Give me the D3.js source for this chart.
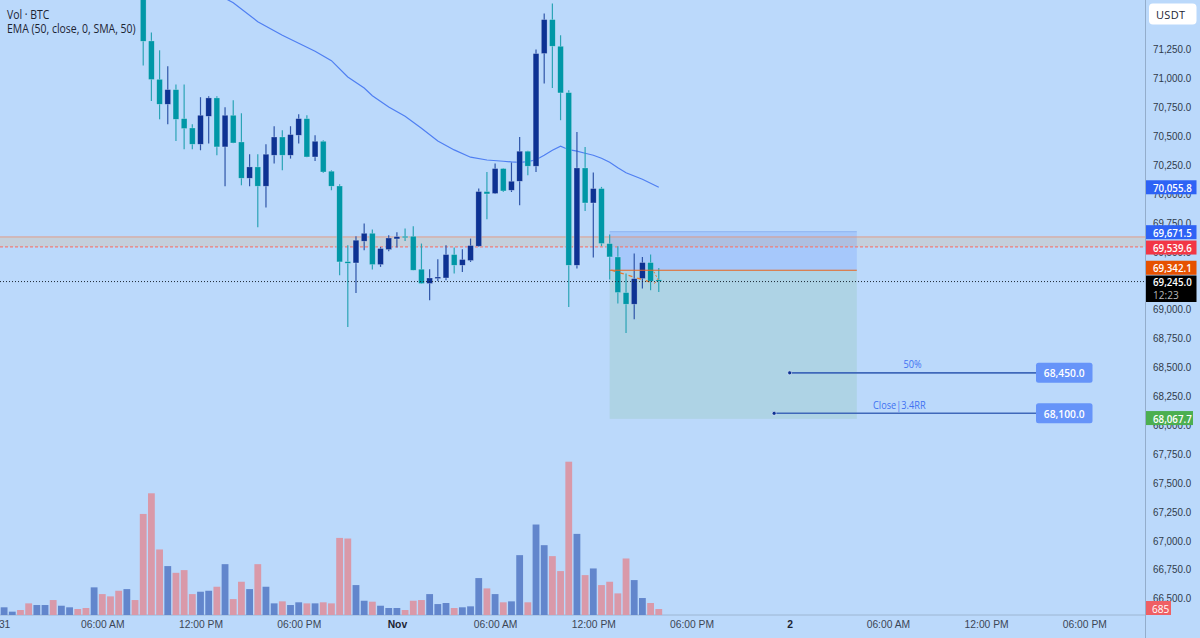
<!DOCTYPE html>
<html>
<head>
<meta charset="utf-8">
<script src="https://cdnjs.cloudflare.com/ajax/libs/d3/7.8.5/d3.min.js"></script>
<style>
html, body { margin: 0; padding: 0; background: #bbd9fb; overflow: hidden; }
svg { display: block; font-family: "Open Sans", "Noto Sans", sans-serif; }
.tick line, .domain { display: none; }
</style>
</head>
<body>
<svg id="chart" width="1200" height="638"></svg>
<script>
// 30 minute candles, index 0 = Oct 31 00:00
var firstCandle = 17;
var candleOpen = [71933,71322,70990,70774,70901,70650,70569,70428,70670,70829,70405,70679,70448,70134,70232,70065,
	70333,70491,70333,70506,70650,70318,70454,70195,70067,69413,69401,69589,69658,69387,69517,69609,
	69632,69632,69347,69223,69266,69271,69474,69381,69422,69546,70019,70002,70218,70030,70108,70368,
	70238,71213,71507,71276,70875,69381,70223,69920,70045,69569,69453,69145,69044,69266,69405,69255];
var candleHigh = [71990,71395,71241,71103,70945,70945,70601,70835,70843,70843,70748,70809,70696,70342,70342,70428,
	70584,70549,70584,70688,70679,70506,70463,70203,70082,69554,69632,69742,69690,69540,69641,69667,
	69699,69719,69569,69347,69433,69554,69534,69520,69612,70045,70188,70261,70220,70270,70491,70372,
	71247,71559,71645,71371,70895,70535,70405,70183,70059,69647,69546,69309,69482,69453,69474,69358];
var candleLow = [71109,70803,70644,70601,70457,70385,70385,70376,70434,70333,70065,70437,70073,70065,69710,69880,
	70261,70203,70304,70434,70316,70284,70180,70030,69295,68847,69142,69511,69344,69367,69502,69534,
	69591,69338,69221,69078,69245,69251,69309,69323,69410,69541,69779,69998,70015,70015,69900,70160,
	70188,70953,70915,70636,69020,69353,69851,69448,69546,69258,69050,68796,68914,69180,69165,69150];
var candleClose = [71319,70988,70774,70901,70644,70564,70428,70679,70829,70405,70679,70439,70134,70232,70065,70342,
	70491,70333,70512,70650,70318,70454,70188,70065,69410,69398,69598,69658,69387,69526,69617,69629,
	69626,69338,69223,69271,69280,69474,69381,69431,69552,70019,69998,70218,70024,70108,70368,70238,
	71213,71507,71276,70872,69381,70223,69920,70045,69569,69453,69145,69044,69266,69405,69243,69245];

var volumes = [880,380,570,1330,1140,1140,1710,1060,880,685,800,3160,2390,2130,2770,2960,1710,
	11550,13910,7490,5590,4820,5130,2390,2660,2770,3230,5810,1820,3800,2960,5810,3230,1330,1560,1140,1450,1330,1330,1450,1330,
	8810,8740,3420,1630,1520,1060,800,800,570,1630,1710,2390,1250,1370,800,880,990,4220,3040,2390,1450,1560,6840,1450,
	10340,7980,6730,5020,17520,9270,4560,5320,3420,3800,2470,6460,3990,1940,1370,685];
// 1 = buy volume, 0 = sell volume
var volumeUp = [1,1,0,0,1,1,0,1,1,0,0,1,0,0,0,1,0,
	0,0,0,1,0,0,0,1,1,0,1,0,0,1,0,1,1,0,1,1,0,1,0,0,
	0,0,1,1,0,1,1,1,0,0,0,1,1,1,0,1,1,1,0,1,0,1,1,0,
	1,1,0,0,0,1,0,1,0,0,0,0,1,1,0,0];

var emaIndex = [27,28,31,34,36,38,40,42,44,45,47,49,51,53,55,57,59,61,62,63,64,65,66,67,68,69,70,71,72,73,74,75,76,78,80];
var emaValue = [71691,71652,71488,71371,71302,71233,71151,71010,70914,70848,70751,70670,70567,70457,70379,70316,70292,
	70281,70275,70272,70277,70294,70333,70376,70411,70381,70368,70350,70333,70307,70272,70225,70182,70125,70056];

var priceTicks = [71250,71000,70750,70500,70250,70000,69750,69500,69250,69000,68750,68500,68250,68000,67750,67500,67250,67000,66750,66500];
var timeTickIndex = [0,12,24,36,48,60,72,84,96,108,120,132];
var timeTickLabel = ["31","06:00 AM","12:00 PM","06:00 PM","Nov","06:00 AM","12:00 PM","06:00 PM","2","06:00 AM","12:00 PM","06:00 PM"];

var zoneTop = 69626, zoneBottom = 69540, lastPrice = 69240;
var stopPrice = 69671.5, entryPrice = 69338, targetPrice = 68052;
var tradeStart = 74, tradeEnd = 104.2;
var tradeLineIndex = [74.2,79.5], tradeLinePrice = [69338,69225];
var tradeHeadIndex = [79.5,79.9,79.4], tradeHeadPrice = [69225,69260,69325];

var targets = [
	{label: "50%", text: "68,450.0", price: 68450, from: 96, labelAt: 111},
	{label: "Close|3.4RR", text: "68,100.0", price: 68100, from: 94.1, labelAt: 109.4}
];

var svg = d3.select("#chart");
var axisX = 1145;

var x = d3.scaleLinear().domain([0, 132]).range([4.1, 1084.3]);
var y = d3.scaleLinear().domain([71250, 66500]).range([49.25, 598.25]);
var vol = d3.scaleLinear().domain([0, 17600]).range([615, 461]);

// the chart font is narrower than anything installed
function squeeze(sel, k) {
	sel.attr("lengthAdjust", "spacingAndGlyphs")
		.attr("textLength", function() { return this.getComputedTextLength() * k; });
}

var plot = svg.append("g");

// level band and position tool sit behind the candles
plot.append("rect").attr("x", 0).attr("width", axisX)
	.attr("y", y(zoneTop)).attr("height", y(zoneBottom) - y(zoneTop))
	.attr("fill", "rgba(220,190,150,0.3)");
plot.append("rect").attr("x", x(tradeStart)).attr("width", x(tradeEnd) - x(tradeStart))
	.attr("y", y(stopPrice)).attr("height", y(entryPrice) - y(stopPrice))
	.attr("fill", "rgba(41,98,255,0.14)");
plot.append("rect").attr("x", x(tradeStart)).attr("width", x(tradeEnd) - x(tradeStart))
	.attr("y", y(entryPrice)).attr("height", y(targetPrice) - y(entryPrice))
	.attr("fill", "rgba(100,180,100,0.14)");
plot.append("line").attr("x1", x(tradeStart)).attr("x2", x(tradeEnd))
	.attr("y1", y(stopPrice)).attr("y2", y(stopPrice))
	.attr("stroke", "#8fb4f0").attr("stroke-width", 1);

plot.append("line").attr("x1", 0).attr("x2", axisX).attr("y1", y(zoneTop)).attr("y2", y(zoneTop))
	.attr("stroke", "#ea8f70").attr("stroke-width", 0.8);
plot.append("line").attr("x1", 0).attr("x2", axisX).attr("y1", y(zoneBottom)).attr("y2", y(zoneBottom))
	.attr("stroke", "#ee7f78").attr("stroke-width", 1.4).attr("stroke-dasharray", "3,2");
plot.append("line").attr("x1", 0).attr("x2", axisX).attr("y1", 615).attr("y2", 615)
	.attr("stroke", "#9db6d2").attr("stroke-width", 1);

// volume
plot.append("g").selectAll("rect").data(volumes).enter().append("rect")
	.attr("x", function(d, i) { return x(i) - 3.4; })
	.attr("width", 6.8)
	.attr("y", function(d) { return vol(d); })
	.attr("height", function(d) { return vol(0) - vol(d); })
	.attr("fill", function(d, i) { return volumeUp[i] ? "#6286cc" : "#d999a9"; });

// ema
var emaLine = d3.line()
	.x(function(d) { return x(d); })
	.y(function(d, i) { return y(emaValue[i]); });
plot.append("path").datum(emaIndex).attr("d", emaLine)
	.attr("fill", "none").attr("stroke", "#4f7ff2").attr("stroke-width", 1.2);

// candles
var candles = plot.append("g").selectAll("g").data(candleOpen).enter().append("g");
function candleX(i) { return x(i + firstCandle); }
function candleUp(i) { return candleClose[i] > candleOpen[i]; }
candles.append("line")
	.attr("x1", function(d, i) { return candleX(i); })
	.attr("x2", function(d, i) { return candleX(i); })
	.attr("y1", function(d, i) { return y(candleHigh[i]); })
	.attr("y2", function(d, i) { return y(candleLow[i]); })
	.attr("stroke", function(d, i) { return candleUp(i) ? "#2f55a8" : "#2ba4b6"; })
	.attr("stroke-width", 1.2);
candles.append("rect")
	.attr("x", function(d, i) { return candleX(i) - 2.9; })
	.attr("width", 5.8)
	.attr("y", function(d, i) { return y(Math.max(candleOpen[i], candleClose[i])); })
	.attr("height", function(d, i) { return Math.max(1.5, Math.abs(y(candleOpen[i]) - y(candleClose[i]))); })
	.attr("fill", function(d, i) { return candleUp(i) ? "#0d3293" : "#0097a7"; })
	.attr("stroke", "rgba(235,245,255,0.45)")
	.attr("stroke-width", 0.6);

// entry line and the dashed trade path over the candles
plot.append("line").attr("x1", x(tradeStart)).attr("x2", x(tradeEnd))
	.attr("y1", y(entryPrice)).attr("y2", y(entryPrice))
	.attr("stroke", "#e8641e").attr("stroke-width", 1.2);
plot.append("line")
	.attr("x1", x(tradeLineIndex[0])).attr("x2", x(tradeLineIndex[1]))
	.attr("y1", y(tradeLinePrice[0])).attr("y2", y(tradeLinePrice[1]))
	.attr("stroke", "#e8782e").attr("stroke-width", 1.3).attr("stroke-dasharray", "4,5");
var headLine = d3.line()
	.x(function(d) { return x(d); })
	.y(function(d, i) { return y(tradeHeadPrice[i]); });
plot.append("path").datum(tradeHeadIndex).attr("d", headLine)
	.attr("fill", "none").attr("stroke", "#e8782e").attr("stroke-width", 1).attr("stroke-dasharray", "2,2");

plot.append("line").attr("x1", 0).attr("x2", axisX).attr("y1", y(lastPrice)).attr("y2", y(lastPrice))
	.attr("stroke", "#1c2733").attr("stroke-width", 1).attr("stroke-dasharray", "1,2");

// target lines with their price boxes
var target = plot.append("g").selectAll("g").data(targets).enter().append("g");
target.append("line")
	.attr("x1", function(d) { return x(d.from); }).attr("x2", 1037)
	.attr("y1", function(d) { return y(d.price); }).attr("y2", function(d) { return y(d.price); })
	.attr("stroke", "#3f68ba").attr("stroke-width", 1.6);
target.append("circle")
	.attr("cx", function(d) { return x(d.from); })
	.attr("cy", function(d) { return y(d.price); })
	.attr("r", 2).attr("fill", "#0d3293").attr("stroke", "#e6f0ff").attr("stroke-width", 0.6);
target.append("text")
	.attr("x", function(d) { return x(d.labelAt); })
	.attr("y", function(d) { return y(d.price) - 9; })
	.attr("text-anchor", "middle").attr("dominant-baseline", "central")
	.attr("font-size", 11.5).attr("fill", "#3f72f2")
	.text(function(d) { return d.label; })
	.call(squeeze, 0.8);
target.append("rect")
	.attr("x", 1036).attr("width", 56.5)
	.attr("y", function(d) { return y(d.price) - 10; }).attr("height", 20).attr("rx", 2.5)
	.attr("fill", "#6694f9");
target.append("text")
	.attr("x", 1064.2)
	.attr("y", function(d) { return y(d.price); })
	.attr("text-anchor", "middle").attr("dominant-baseline", "central")
	.attr("font-size", 11.5).attr("font-weight", 600).attr("fill", "#fff")
	.text(function(d) { return d.text; })
	.call(squeeze, 0.89);

// legend
var legend = ["Vol · BTC", "EMA (50, close, 0, SMA, 50)"];
svg.append("g").selectAll("text").data(legend).enter().append("text")
	.attr("x", 7).attr("y", function(d, i) { return 14 + i * 14.3; })
	.attr("dominant-baseline", "central")
	.attr("font-size", 12).attr("fill", "#1b2433")
	.text(function(d) { return d; })
	.call(squeeze, 0.87);

// axes
svg.append("line").attr("x1", axisX + 0.5).attr("x2", axisX + 0.5).attr("y1", 0).attr("y2", 638)
	.attr("stroke", "#93adcb").attr("stroke-width", 1);

var priceAxis = d3.axisRight(y).tickValues(priceTicks).tickFormat(d3.format(",.1f")).tickSize(0).tickPadding(0);
var priceG = svg.append("g").attr("transform", "translate(1153,0)").call(priceAxis);
priceG.selectAll("text").attr("font-size", 11.2).attr("fill", "#2f3a4a").attr("font-family", "inherit")
	.call(squeeze, 0.875);

var timeAxis = d3.axisBottom(x).tickValues(timeTickIndex)
	.tickFormat(function(d, i) { return timeTickLabel[i]; }).tickSize(0).tickPadding(0);
var timeG = svg.append("g").attr("transform", "translate(0,620)").call(timeAxis);
timeG.selectAll("text").attr("font-size", 11.2).attr("fill", "#3b4656").attr("font-family", "inherit");
timeG.selectAll("text").filter(function(d) { return d === 48 || d === 96; }).attr("font-weight", 600).attr("fill", "#1b2433");
timeG.selectAll("text").call(squeeze, 0.92);

// price labels on the scale
var scaleLabelText = ["70,055.8","69,671.5","69,539.6","69,342.1","68,067.7"];
var scaleLabelPrice = [70055.8,69671.5,69539.6,69342.1,68067.7];
var scaleLabelColor = ["#2d62f5","#2d62f5","#f23645","#e65100","#4caf50"];
var scaleLabelNudge = [0,0.5,0.6,-2,1];
var scaleLabelWidth = [50.5,50.5,50.5,50.5,47];
var scaleLabels = svg.append("g").selectAll("g").data(scaleLabelText).enter().append("g");
scaleLabels.append("rect")
	.attr("x", 1146).attr("width", function(d, i) { return scaleLabelWidth[i]; })
	.attr("y", function(d, i) { return y(scaleLabelPrice[i]) + scaleLabelNudge[i] - 7; })
	.attr("height", 14)
	.attr("fill", function(d, i) { return scaleLabelColor[i]; });
scaleLabels.append("text")
	.attr("x", 1153)
	.attr("y", function(d, i) { return y(scaleLabelPrice[i]) + scaleLabelNudge[i]; })
	.attr("dominant-baseline", "central")
	.attr("font-size", 11.2).attr("font-weight", 600).attr("fill", "#fff")
	.text(function(d) { return d; })
	.call(squeeze, 0.87);

// last price with countdown
svg.append("rect").attr("x", 1146).attr("width", 50.5).attr("y", 275.5).attr("height", 26.5).attr("fill", "#000");
svg.append("text").attr("x", 1153).attr("y", 281.7).attr("dominant-baseline", "central")
	.attr("font-size", 11.2).attr("font-weight", 600).attr("fill", "#fff").text("69,245.0").call(squeeze, 0.87);
svg.append("text").attr("x", 1153).attr("y", 294.5).attr("dominant-baseline", "central")
	.attr("font-size", 11.2).attr("fill", "#b8b8b8").text("12:23").call(squeeze, 0.9);

// current volume
svg.append("rect").attr("x", 1146).attr("width", 25).attr("y", 601).attr("height", 14).attr("fill", "#ef5f64");
svg.append("text").attr("x", 1152).attr("y", 608).attr("dominant-baseline", "central")
	.attr("font-size", 11.2).attr("fill", "#fff").text("685").call(squeeze, 0.9);

// currency button
svg.append("rect").attr("x", 1149).attr("y", 3.5).attr("width", 47.5).attr("height", 21).attr("rx", 4).attr("fill", "#fff");
svg.append("text").attr("x", 1156).attr("y", 14).attr("dominant-baseline", "central")
	.attr("font-size", 11).attr("letter-spacing", 0.3).attr("fill", "#1b2433").text("USDT");
</script>
</body>
</html>
